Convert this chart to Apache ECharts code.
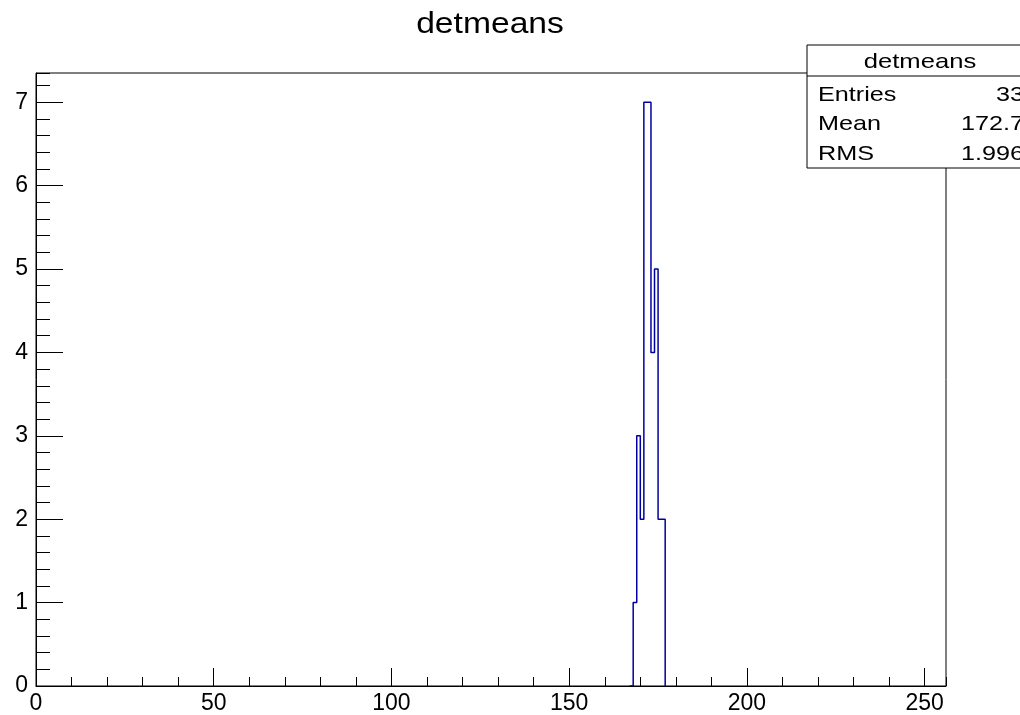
<!DOCTYPE html>
<html>
<head>
<meta charset="utf-8">
<script src="https://cdn.jsdelivr.net/npm/echarts@6/dist/echarts.min.js"></script>
<style>
  html, body { margin: 0; padding: 0; background: #fff; }
  #chart { width: 1020px; height: 715px; }
</style>
</head>
<body>
<div id="chart"></div>
<script>
// ---- data ----
const histTitle = 'detmeans';
const nBins = 256;
const xLow = 0;
const xHigh = 256;
const firstFilledBin = 168;
const filledCounts = [1, 3, 2, 7, 7, 4, 5, 2, 2];
const xTickLabels = ['0', '50', '100', '150', '200', '250'];
const yTickLabels = ['0', '1', '2', '3', '4', '5', '6', '7'];
const statsNames = ['Entries', 'Mean', 'RMS'];
const statsValues = ['33', '172.7', '1.996'];
const yMax = 7.35;

// ---- build step outline from bins ----
const binWidth = (xHigh - xLow) / nBins;
const counts = [];
for (let i = 0; i < nBins; i++) {
  const k = i - firstFilledBin;
  counts.push(k >= 0 && k < filledCounts.length ? filledCounts[k] : 0);
}
// outline of the histogram; empty runs at the ends lie on the frame (hidden there in the original)
let firstNZ = counts.findIndex(c => c > 0);
let lastNZ = nBins - 1 - counts.slice().reverse().findIndex(c => c > 0);
const stepData = [];
for (let i = firstNZ - 1; i <= lastNZ + 1; i++) {
  stepData.push([xLow + i * binWidth, counts[i]]);
}

const FONT = 'Liberation Sans, Arial, Helvetica, sans-serif';
const chart = echarts.init(document.getElementById('chart'), null, { renderer: 'canvas' });

const gridBox = { left: 36, right: 74, top: 73, bottom: 28 };

function txt(x, y, text, size, align, sx) {
  return { type: 'text', x: x, y: y, scaleX: sx, scaleY: 1,
    style: { text: text, font: size + 'px ' + FONT, fill: '#000', align: align, verticalAlign: 'middle' } };
}

const option = {
  animation: false,
  backgroundColor: '#ffffff',
  grid: Object.assign({ show: true, borderColor: '#000', borderWidth: 1, backgroundColor: 'transparent', containLabel: false }, gridBox),
  xAxis: [
    {
      type: 'value', min: xLow, max: xHigh, interval: 50, position: 'bottom', z: 5,
      axisLine: { show: true, onZero: false, lineStyle: { color: '#000', width: 1 } },
      axisTick: { show: true, inside: true, length: 18, lineStyle: { color: '#000', width: 1 } },
      axisLabel: {
        show: true, margin: 6, color: '#000', fontSize: 23, fontFamily: FONT,
        showMaxLabel: false,
        formatter: (v) => { const i = xTickLabels.indexOf(String(v)); return i >= 0 ? xTickLabels[i] : ''; }
      },
      splitLine: { show: false }
    },
    {
      type: 'value', min: xLow, max: xHigh, interval: 10, position: 'bottom', offset: 0, z: 5,
      axisLine: { show: false },
      axisTick: { show: true, inside: true, length: 9, lineStyle: { color: '#000', width: 1 } },
      axisLabel: { show: false },
      splitLine: { show: false }
    }
  ],
  yAxis: [
    {
      type: 'value', min: 0, max: yMax, interval: 1, position: 'left', z: 5,
      axisLine: { show: true, onZero: false, lineStyle: { color: '#000', width: 1 } },
      axisTick: { show: true, inside: true, length: 27, lineStyle: { color: '#000', width: 1 } },
      axisLabel: {
        show: true, margin: 8, color: '#000', fontSize: 23, fontFamily: FONT,
        showMaxLabel: false,
        formatter: (v) => { const i = yTickLabels.indexOf(String(v)); return i >= 0 ? yTickLabels[i] : ''; }
      },
      splitLine: { show: false }
    },
    {
      type: 'value', min: 0, max: yMax, interval: 0.2, position: 'left', offset: 0, z: 5,
      axisLine: { show: false },
      axisTick: { show: true, inside: true, length: 14, lineStyle: { color: '#000', width: 1 } },
      axisLabel: { show: false },
      splitLine: { show: false }
    }
  ],
  series: [
    {
      type: 'line',
      xAxisIndex: 0, yAxisIndex: 0,
      step: 'end',
      data: stepData,
      showSymbol: false,
      symbol: 'none',
      z: 2,
      lineStyle: { color: '#0000a0', width: 1.5 },
      silent: true
    }
  ],
  graphic: [
    Object.assign(txt(490, 25, histTitle, 29, 'center', 1.16), { z: 10 }),
    {
      type: 'group', z: 20,
      children: [
        { type: 'rect', shape: { x: 807, y: 45, width: 240, height: 123 }, style: { fill: '#fff', stroke: '#000', lineWidth: 1 } },
        { type: 'line', shape: { x1: 807, y1: 76, x2: 1047, y2: 76 }, style: { stroke: '#000', lineWidth: 1 } },
        txt(920, 62, histTitle, 21, 'center', 1.22)
      ].concat(
        statsNames.map((n, i) => txt(818, 95 + i * 29.5, n, 21, 'left', 1.2)),
        statsValues.map((v, i) => txt(1024, 95 + i * 29.5, v, 21, 'right', 1.2))
      )
    }
  ]
};
chart.setOption(option);
</script>
</body>
</html>
